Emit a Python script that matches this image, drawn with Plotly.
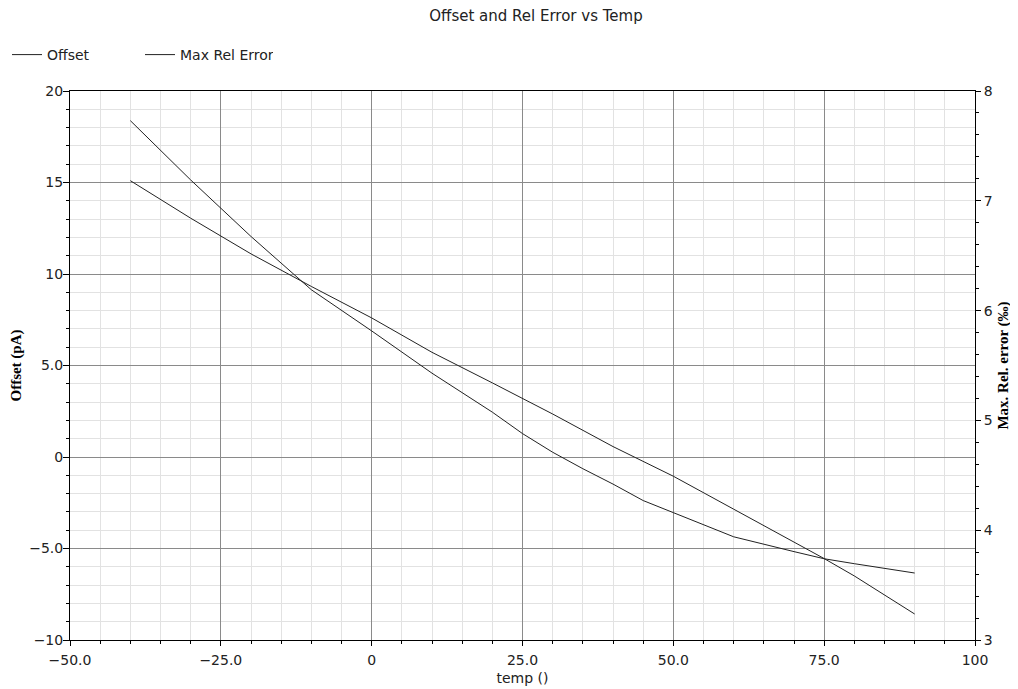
import plotly.graph_objects as go

# Data
temp_offset = [-40, -30, -20, -10, 0, 10, 20, 30, 40, 50, 60, 70, 75, 80, 90]
offset_pA = [15.1, 13.05, 11.1, 9.32, 7.6, 5.72, 4.05, 2.35, 0.57, -1.05, -2.85, -4.65, -5.55, -6.5, -8.58]

temp_err = [-40, -30, -20, -10, 0, 10, 20, 25, 30, 35, 40, 45, 50, 60, 70, 75, 80, 90]
max_rel_err = [7.73, 7.19, 6.675, 6.19, 5.815, 5.43, 5.075, 4.88, 4.71, 4.56, 4.42, 4.27, 4.16, 3.94, 3.805, 3.74, 3.695, 3.61]

x_tickvals = [-50, -25, 0, 25, 50, 75, 100]
x_ticktext = ["\u221250.0", "\u221225.0", "0", "25.0", "50.0", "75.0", "100"]
y_tickvals = [-10, -5, 0, 5, 10, 15, 20]
y_ticktext = ["\u221210", "\u22125.0", "0", "5.0", "10", "15", "20"]
y2_tickvals = [3, 4, 5, 6, 7, 8]
y2_ticktext = ["3", "4", "5", "6", "7", "8"]

FONT = "DejaVu Sans"
SERIF = "Liberation Serif"
MAJOR_GRID = "#8a8a8a"
MINOR_GRID = "#e2e2e2"
TXT = "#222222"

# the page body adds an 8px margin; the figure is sized to fit the window
W, H = 1010, 681

fig = go.Figure()
fig.add_trace(go.Scatter(x=temp_offset, y=offset_pA, mode="lines", name="Offset",
                         line=dict(color="#222222", width=1)))
fig.add_trace(go.Scatter(x=temp_err, y=max_rel_err, mode="lines", name="Max Rel Error",
                         yaxis="y2", line=dict(color="#222222", width=1)))

fig.update_layout(
    width=W, height=H,
    margin=dict(l=62, r=43, t=83, b=49, autoexpand=False),
    paper_bgcolor="white", plot_bgcolor="white",
    font=dict(family=FONT, size=14, color=TXT),
    title=dict(text="Offset and Rel Error vs Temp", x=(536 - 8) / W, xanchor="center",
               y=1 - 2 / H, yanchor="top", xref="container", yref="container",
               pad=dict(t=0, b=0, l=0, r=0),
               font=dict(family=FONT, size=15, color=TXT)),
    showlegend=True,
    legend=dict(orientation="h", x=-63 / 905, xanchor="left", y=1 + 36 / 549, yanchor="middle",
                font=dict(family=FONT, size=14, color=TXT),
                itemwidth=30, entrywidth=88, entrywidthmode="pixels",
                bgcolor="rgba(0,0,0,0)"),
    xaxis=dict(
        range=[-50, 100], tickvals=x_tickvals, ticktext=x_ticktext,
        showline=True, linecolor="black", linewidth=1, mirror=True,
        ticks="outside", ticklen=5, tickcolor="black",
        showgrid=True, gridcolor=MAJOR_GRID, gridwidth=1, zeroline=False,
        minor=dict(dtick=5, ticks="outside", ticklen=3, tickcolor="black",
                   showgrid=True, gridcolor=MINOR_GRID, gridwidth=1),
        title=dict(text="temp ()", standoff=6, font=dict(family=FONT, size=14, color=TXT)),
        tickfont=dict(family=FONT, size=14, color=TXT),
        ticklabelstandoff=2,
        automargin=False,
    ),
    yaxis=dict(
        range=[-10, 20], tickvals=y_tickvals, ticktext=y_ticktext,
        showline=True, linecolor="black", linewidth=1,
        ticks="outside", ticklen=6, tickcolor="black",
        showgrid=True, gridcolor=MAJOR_GRID, gridwidth=1, zeroline=False,
        minor=dict(dtick=1, ticks="outside", ticklen=3, tickcolor="black",
                   showgrid=True, gridcolor=MINOR_GRID, gridwidth=1),
        title=dict(text="<b>Offset (pA)</b>", standoff=4,
                   font=dict(family=SERIF, size=15, color="black")),
        tickfont=dict(family=FONT, size=14, color=TXT),
        ticklabelstandoff=-3,
        automargin=False,
    ),
    yaxis2=dict(
        range=[3, 8], tickvals=y2_tickvals, ticktext=y2_ticktext,
        overlaying="y", side="right",
        showline=True, linecolor="black", linewidth=1,
        ticks="outside", ticklen=5, tickcolor="black",
        showgrid=False, zeroline=False,
        minor=dict(dtick=0.2, ticks="outside", ticklen=3, tickcolor="black", showgrid=False),
        title=dict(text="<b>Max. Rel. error (\u2030)</b>", standoff=5,
                   font=dict(family=SERIF, size=15, color="black")),
        tickfont=dict(family=FONT, size=14, color=TXT),
        automargin=False,
    ),
)

fig.write_html("out.html")
